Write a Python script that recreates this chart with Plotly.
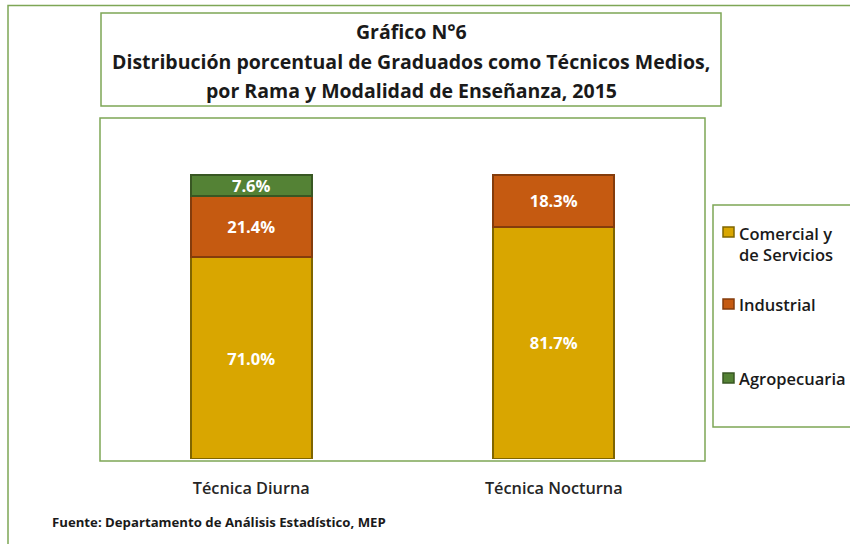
import plotly.graph_objects as go

categories = ["Técnica Diurna", "Técnica Nocturna"]
series_names = ["Comercial y de Servicios", "Industrial", "Agropecuaria"]
legend_labels = ["Comercial y<br>de Servicios", "Industrial", "Agropecuaria"]
comercial = [71.0, 81.7]
industrial = [21.4, 18.3]
agropecuaria = [7.6, None]
values = [comercial, industrial, agropecuaria]

fills = ["#D9A600", "#C55A11", "#548235"]
lines = ["#7F6500", "#843C0C", "#385723"]
FONT = "Open Sans"

W, H = 850, 544
L, R, T, B = 100, 705, 118, 459


def px(x):
    return (x - L) / (R - L)


def py(y):
    return (B - y) / (B - T)


fig = go.Figure()
for name, vals, fc, lc in zip(series_names, values, fills, lines):
    fig.add_trace(go.Bar(
        x=categories, y=vals, name=name,
        marker=dict(color=fc, line=dict(color=lc, width=2)),
        width=0.4,
        text=[("%.1f%%" % v) if v is not None else "" for v in vals],
        textposition="inside", insidetextanchor="middle", constraintext="none",
        textfont=dict(family=FONT, size=16.5, color="white", weight="bold"),
        showlegend=False, hoverinfo="skip",
    ))

green = "#7EA656"
shapes = [
    dict(type="rect", xref="paper", yref="paper", x0=px(8), x1=px(870), y0=py(570), y1=py(5.5),
         line=dict(color=green, width=1.5)),
    dict(type="rect", xref="paper", yref="paper", x0=px(101), x1=px(721), y0=py(106), y1=py(13),
         line=dict(color=green, width=1.5), fillcolor="white"),
    dict(type="rect", xref="paper", yref="paper", x0=0, x1=1, y0=py(461), y1=1,
         line=dict(color=green, width=1.5)),
    dict(type="rect", xref="paper", yref="paper", x0=px(713), x1=px(880), y0=py(427), y1=py(205),
         line=dict(color=green, width=1.5)),
]

annotations = []
title_lines = [
    ("Gráfico N°6", 31),
    ("Distribución porcentual de Graduados como Técnicos Medios,", 62),
    ("por Rama y Modalidad de Enseñanza, 2015", 90),
]
for txt, yy in title_lines:
    annotations.append(dict(text=txt, xref="paper", yref="paper", x=px(411), y=py(yy),
                            xanchor="center", yanchor="middle", showarrow=False,
                            font=dict(family=FONT, size=19.5, color="#1a1a1a", weight="bold")))

annotations.append(dict(text="Fuente: Departamento de Análisis Estadístico, MEP",
                        xref="paper", yref="paper", x=px(50), y=py(522),
                        xanchor="left", yanchor="middle", showarrow=False,
                        font=dict(family=FONT, size=13.2, color="#1a1a1a", weight="bold")))

leg_centers = [243.5, 304, 378]
for lab, cy, fc, lc in zip(legend_labels, leg_centers, fills, lines):
    sq_y = 232 if "<br>" in lab else cy
    shapes.append(dict(type="rect", xref="paper", yref="paper",
                       x0=px(723), x1=px(734), y0=py(sq_y + 5), y1=py(sq_y - 5),
                       fillcolor=fc, line=dict(color=lc, width=1.5)))
    annotations.append(dict(text=lab, xref="paper", yref="paper", x=px(737), y=py(cy),
                            xanchor="left", yanchor="middle", align="left", showarrow=False,
                            font=dict(family=FONT, size=16.5, color="#1a1a1a", weight=600)))

fig.update_layout(
    width=W, height=H,
    margin=dict(l=L, r=W - R, t=T, b=H - B, pad=0),
    paper_bgcolor="white", plot_bgcolor="white",
    barmode="stack",
    xaxis=dict(range=[-0.5, 1.5], showgrid=False, showline=False, ticks="",
               tickfont=dict(family=FONT, size=16.3, color="#262626", weight=600),
               ticklabelstandoff=18),
    yaxis=dict(range=[0, 120], visible=False),
    shapes=shapes, annotations=annotations,
)

fig.write_html("out.html", config={"displayModeBar": False},
               post_script="document.body.style.margin='0';")
